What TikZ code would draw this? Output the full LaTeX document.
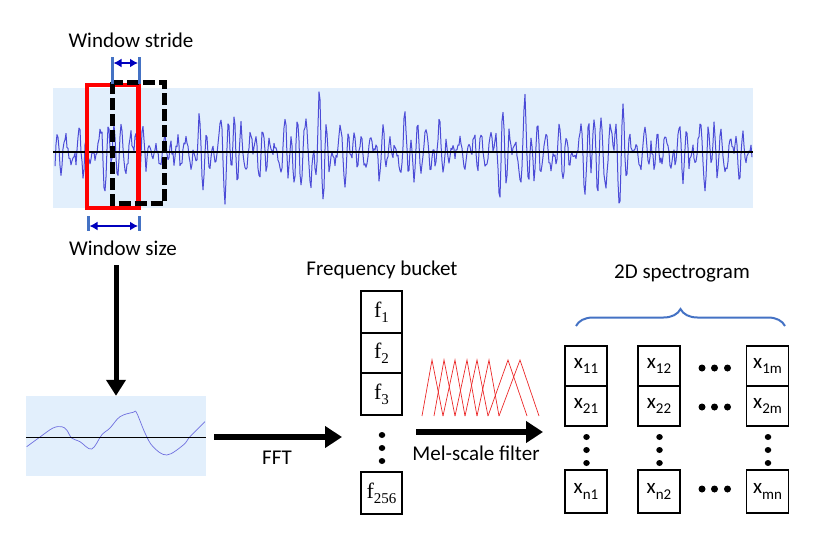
\documentclass[tikz,border=0pt]{standalone}
\usepackage{fontspec}
\setmainfont{Carlito}
\newfontfamily\serifT{Liberation Serif}
\usetikzlibrary{arrows.meta,decorations.pathreplacing,shapes.geometric}
\definecolor{bandblue}{RGB}{226,239,252}
\definecolor{wavecol}{RGB}{75,75,215}
\definecolor{tickblue}{RGB}{68,114,196}
\definecolor{arrblue}{RGB}{0,0,190}
\definecolor{melred}{RGB}{235,40,40}
\newcommand{\fsub}[1]{{\serifT\fontsize{22}{22}\selectfont f\raisebox{-0.22em}{\fontsize{15}{15}\selectfont #1}}}
\newcommand{\xsub}[1]{{\fontsize{21}{21}\selectfont x\raisebox{-0.25em}{\fontsize{15}{15}\selectfont #1}}}
\tikzset{
  lbl/.style={font=\fontsize{21}{25}\selectfont, inner sep=0pt},
  fbox/.style={draw, line width=1.3pt, minimum width=41pt, inner sep=0pt},
  xbox/.style={draw, line width=1.3pt, minimum width=42pt, minimum height=40pt, inner sep=0pt},
  bigarrow/.style={line width=6pt, -{Triangle[length=17pt,width=21pt]}},
  downarrow/.style={line width=5pt, -{Triangle[length=16pt,width=19pt]}},
  bluearrow/.style={arrblue, line width=1.6pt, {Latex[length=8pt,width=9pt]}-{Latex[length=8pt,width=9pt]}},
  tick/.style={tickblue, line width=3pt},
  mel/.style={melred, line width=0.7pt},
  dotb/.style={fill=black, draw=none, ellipse},
}
\begin{document}
\begin{tikzpicture}[x=1pt,y=-1pt]
\useasboundingbox (0,0) rectangle (824,538);
% top waveform band
\node[fill=bandblue, minimum width=700pt, minimum height=120pt, inner sep=0pt] (band) at (403,148) {};
\pgfmathsetseed{3}
\begin{scope}
\clip (band.north west) rectangle (band.south east);
\draw[wavecol, line width=1pt, line join=round] plot[domain=55:752, samples=698, variable=\x]
  (\x, {152 - 55*(0.75+0.3*sin(3.7*\x))*(0.85+0.2*sin(1.3*\x+70))*(0.45*sin(51*mod(\x,120)) + 0.35*sin(33*mod(\x,120)+40) + 0.25*sin(63*mod(\x,40)+100) + 0.2*sin(21*mod(\x,120)+200)) - 6*rand});
\end{scope}
\draw[line width=1.5pt] (band.west |- 0,152) -- (band.east |- 0,152);
% windows
\draw[red, line width=4.5pt] (87,85) rectangle (138.7,208);
\draw[black, line width=5pt, dash pattern=on 12pt off 4pt] (112,82) rectangle (164,203.5);
% stride
\draw[tick] (112.5,57) -- (112.5,84);
\draw[tick] (139,57) -- (139,84);
\coordinate (sL) at (113.5,63);
\coordinate (sR) at (138,63);
\draw[bluearrow] (sL) -- (sR);
\node[lbl] (stride) at (131,40) {Window stride};
% size
\draw[tick] (88.5,216) -- (88.5,231);
\draw[tick] (139,216) -- (139,231);
\coordinate (zL) at (89.5,226);
\coordinate (zR) at (138,226);
\draw[bluearrow] (zL) -- (zR);
\node[lbl] (wsize) at (123,248) {Window size};
% small wave box
\node[fill=bandblue, minimum width=180pt, minimum height=80pt, inner sep=0pt] (small) at (116,436) {};
\draw[wavecol!80, line width=0.7pt] plot[smooth, tension=0.6] coordinates {(26.7,446.7) (40,437) (53,428) (61.7,426.7) (66.7,430) (71.7,438) (80,441.7) (91.7,449) (101.7,435) (110,428) (120,416.7) (133.3,412.3) (136.7,413) (145,433) (153,446.7) (166.7,455) (183.3,445) (190,436.7) (205,421.7)};
\draw[line width=1pt] (small.west |- 0,437) -- (small.east |- 0,437);
\coordinate (dtop) at (116,265);
\draw[downarrow] (dtop) -- (small.north);
% FFT
\coordinate (fftS) at (214,437);
\coordinate (fftE) at (342,437);
\draw[bigarrow] (fftS) -- (fftE);
\node[lbl] (fft) at (277,458) {FFT};
% frequency bucket
\node[lbl] (fbl) at (382,270) {Frequency bucket};
\node[fbox, minimum height=42pt] (f1) at (381.5,312) {\fsub{1}};
\node[fbox, minimum height=40pt] (f2) at (381.5,353) {\fsub{2}};
\node[fbox, minimum height=42pt] (f3) at (381.5,394) {\fsub{3}};
\node[fbox, minimum height=42pt] (f256) at (381.5,493) {\fsub{256}};
\foreach \yy [count=\i] in {435,448,461} \node[dotb, minimum width=6.5pt, minimum height=6pt, inner sep=0pt] (fd\i) at (382,\yy) {};
% mel filters
\foreach \a/\b/\c in {422/432/443, 434/444/455, 443/455/465, 455/467/477, 465/477/488, 477/489/499, 488/508/527, 499/520/539}
  \draw[mel] (\a,416) -- (\b,360) -- (\c,416);
\coordinate (melS) at (416,432);
\coordinate (melE) at (543,432);
\draw[bigarrow] (melS) -- (melE);
\node[lbl] (mell) at (476,453) {Mel-scale filter};
% spectrogram
\node[lbl] (spl) at (682,273) {2D spectrogram};
\coordinate (brL) at (576,326);
\coordinate (brR) at (785,326);
\draw[tickblue, line width=2pt, decorate, decoration={brace, amplitude=17pt}] (brL) -- (brR);
\foreach \cx/\cn in {586/1, 659/2, 767.5/m} {
  \node[xbox] (x1\cn) at (\cx,366) {};
  \node[xbox] (x2\cn) at (\cx,406) {};
  \node[xbox, minimum height=43pt] (xn\cn) at (\cx,491.5) {};
  \foreach \yy [count=\i] in {437,450,463} \node[dotb, minimum width=6.5pt, minimum height=6pt, inner sep=0pt] (vd\cn\i) at (\cx+0.5,\yy) {};
}
\node at (x11) {\xsub{11}};
\node at (x12) {\xsub{12}};
\node at (x1m) {\xsub{1m}};
\node at (x21) {\xsub{21}};
\node at (x22) {\xsub{22}};
\node at (x2m) {\xsub{2m}};
\node at (xn1) {\xsub{n1}};
\node at (xn2) {\xsub{n2}};
\node at (xnm) {\xsub{mn}};
\foreach \yy/\r in {368/a, 407/b, 489/c}
  \foreach \xx [count=\i] in {702,714.5,727.5}
    \node[dotb, minimum width=7pt, minimum height=7pt, inner sep=0pt] (hd\r\i) at (\xx,\yy) {};
\end{tikzpicture}
\end{document}
